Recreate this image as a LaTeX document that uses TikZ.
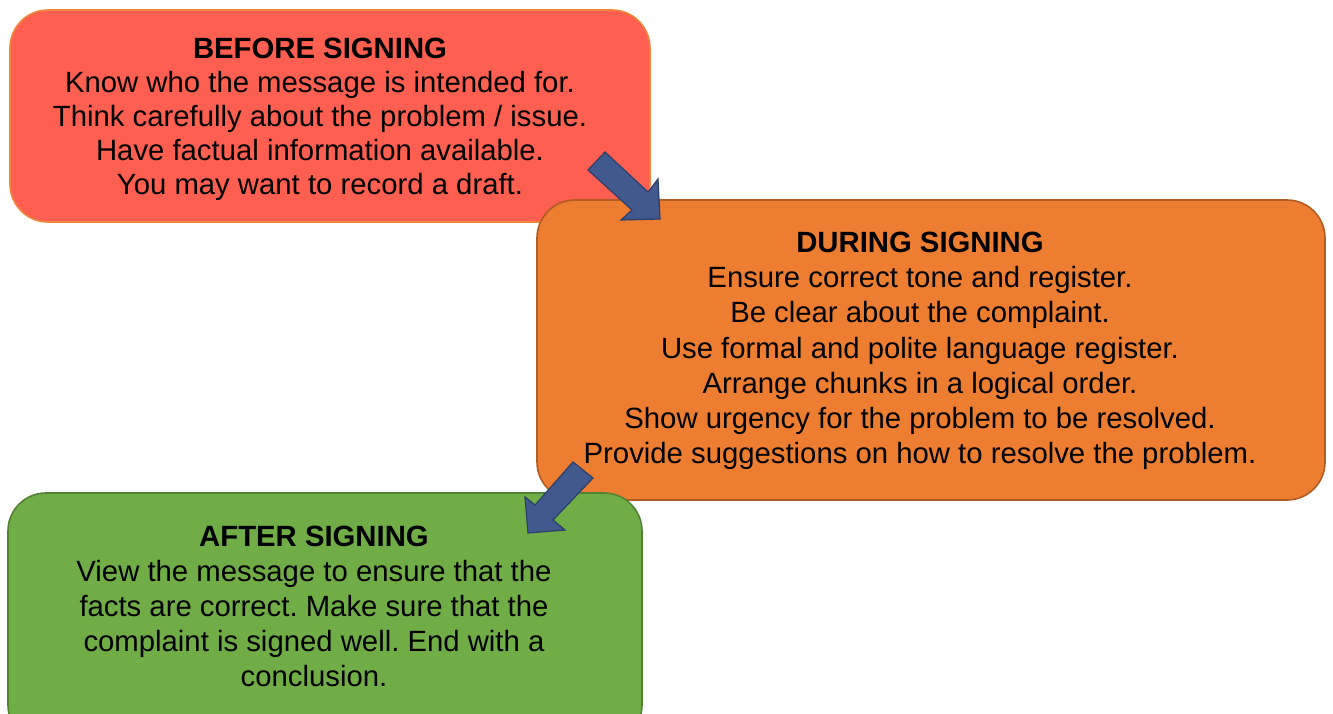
\documentclass[tikz,border=0pt]{standalone}
\usepackage{fontspec}
\setmainfont{Liberation Sans}
\frenchspacing
\definecolor{redfill}{HTML}{FE5F50}
\definecolor{redline}{HTML}{F0863A}
\definecolor{orfill}{HTML}{ED7D31}
\definecolor{orline}{HTML}{B05C22}
\definecolor{grfill}{HTML}{70AD47}
\definecolor{grline}{HTML}{548235}
\definecolor{arfill}{HTML}{41598C}
\definecolor{arline}{HTML}{2C3F6B}
\tikzset{
  box/.style={draw, line width=1.6pt, rounded corners=38pt, inner sep=0pt, outer sep=0pt},
  txt/.style={align=center, inner sep=0pt, text=black},
  blockarrow/.style={fill=arfill, draw=arline, line width=1.2pt, line join=miter}
}
\begin{document}
\begin{tikzpicture}[x=1pt,y=-1pt]
\useasboundingbox (0,0) rectangle (1333,713);
\clip (0,0) rectangle (1333,713);
\fill[white] (0,0) rectangle (1333,713);
% boxes
\node[box, fill=redfill, draw=redline, minimum width=640pt, minimum height=212pt, anchor=north west] (before) at (10,10) {};
\node[box, fill=orfill, draw=orline, minimum width=788pt, minimum height=300pt, anchor=north west] (during) at (537,200) {};
\node[box, fill=grfill, draw=grline, minimum width=634pt, minimum height=250pt, anchor=north west] (after) at (8,493) {};
% texts
\node[txt, font=\fontsize{29.3}{34}\selectfont] (beforetxt) at (320,119) {\textbf{BEFORE SIGNING}\\Know who the message is intended for.\\Think carefully about the problem / issue.\\Have factual information available.\\You may want to record a draft.};
\node[txt, font=\fontsize{29.3}{35.2}\selectfont] (duringtxt) at (920,351) {\textbf{DURING SIGNING}\\Ensure correct tone and register.\\Be clear about the complaint.\\Use formal and polite language register.\\Arrange chunks in a logical order.\\Show urgency for the problem to be resolved.\\Provide suggestions on how to resolve the problem.};
\node[txt, font=\fontsize{29.3}{35.2}\selectfont] (aftertxt) at (314,606.5) {\textbf{AFTER SIGNING}\\View the message to ensure that the\\facts are correct. Make sure that the\\complaint is signed well. End with a\\conclusion.};
% block arrows
\draw[blockarrow] (605,152) -- (648,192) -- (658,179) -- (660,219) -- (621,220) -- (632,210) -- (588,170) -- cycle;
\draw[blockarrow] (573,462) -- (593,478) -- (553,520) -- (565,530) -- (528,533) -- (525,497) -- (535,505) -- cycle;
\end{tikzpicture}
\end{document}
